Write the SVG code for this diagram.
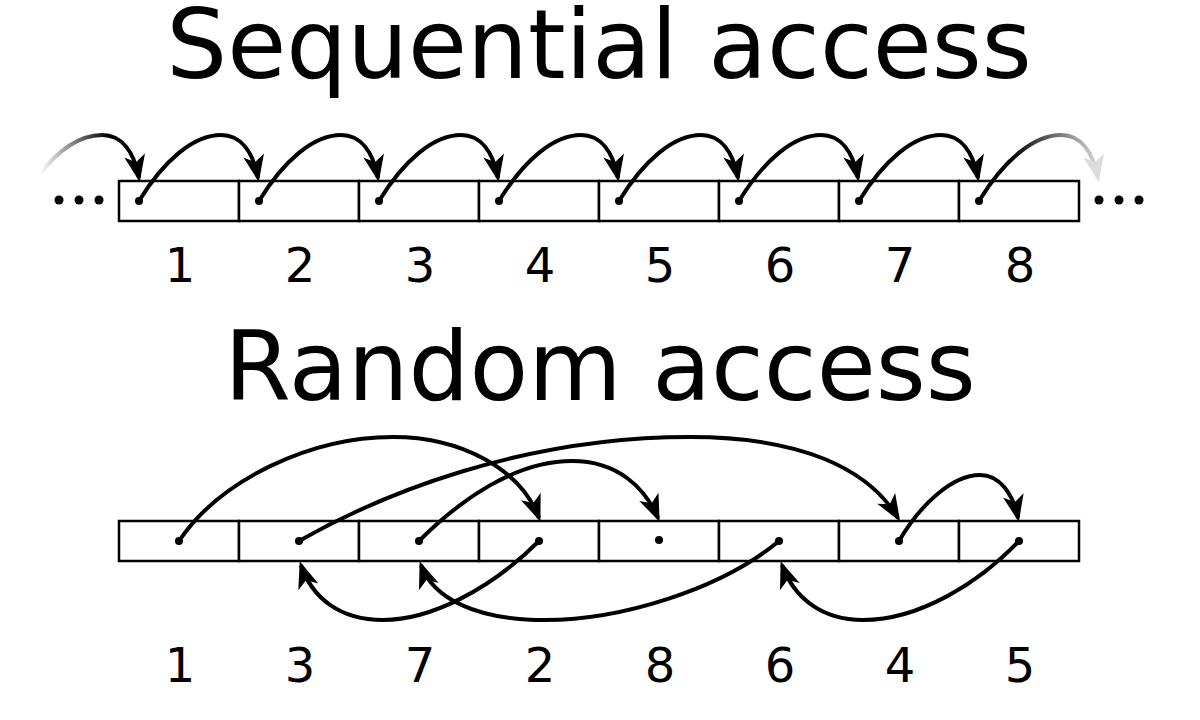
<svg xmlns="http://www.w3.org/2000/svg" width="1200" height="720" viewBox="0 0 1200 720">
<style>
.title{font-family:"DejaVu Sans","Liberation Sans",sans-serif;font-size:96px;fill:#000;text-anchor:middle}
.num{font-family:"DejaVu Sans","Liberation Sans",sans-serif;font-size:48px;fill:#000;text-anchor:middle}
.cell{fill:#fff;stroke:#000;stroke-width:2.5}
.dot{fill:#000}
.arc{fill:none;stroke:#000;stroke-width:4}
</style>
<defs>
<marker id="ah" markerUnits="userSpaceOnUse" orient="auto" refX="0" refY="0" markerWidth="40" markerHeight="40" overflow="visible">
<path d="M4,0 L-23,-10.5 L-16,0 L-23,10.5 z" fill="#000"/>
</marker>
<marker id="ahFade" markerUnits="userSpaceOnUse" orient="auto" refX="0" refY="0" markerWidth="40" markerHeight="40" overflow="visible">
<path d="M4,0 L-23,-10.5 L-16,0 L-23,10.5 z" fill="#dcdcdc"/>
</marker>
<linearGradient id="fadeIn" gradientUnits="userSpaceOnUse" x1="40" y1="0" x2="108" y2="0">
<stop offset="0" stop-color="#000" stop-opacity="0"/>
<stop offset="1" stop-color="#000" stop-opacity="1"/>
</linearGradient>
<linearGradient id="fadeOut" gradientUnits="userSpaceOnUse" x1="1010" y1="0" x2="1100" y2="0">
<stop offset="0" stop-color="#000"/>
<stop offset="1" stop-color="#dcdcdc"/>
</linearGradient>
</defs>
<rect width="1200" height="720" fill="#fff"/>

<text class="title" x="599" y="78">Sequential access</text>
<text class="title" x="600" y="400">Random access</text>

<g id="seq-row">
<g id="seq-1"><rect class="cell" x="119" y="181" width="120" height="40"/><circle class="dot" cx="139" cy="201" r="4"/><text class="num" x="180" y="282">1</text></g>
<g id="seq-2"><rect class="cell" x="239" y="181" width="120" height="40"/><circle class="dot" cx="259" cy="201" r="4"/><text class="num" x="300" y="282">2</text></g>
<g id="seq-3"><rect class="cell" x="359" y="181" width="120" height="40"/><circle class="dot" cx="379" cy="201" r="4"/><text class="num" x="420" y="282">3</text></g>
<g id="seq-4"><rect class="cell" x="479" y="181" width="120" height="40"/><circle class="dot" cx="499" cy="201" r="4"/><text class="num" x="540" y="282">4</text></g>
<g id="seq-5"><rect class="cell" x="599" y="181" width="120" height="40"/><circle class="dot" cx="619" cy="201" r="4"/><text class="num" x="660" y="282">5</text></g>
<g id="seq-6"><rect class="cell" x="719" y="181" width="120" height="40"/><circle class="dot" cx="739" cy="201" r="4"/><text class="num" x="780" y="282">6</text></g>
<g id="seq-7"><rect class="cell" x="839" y="181" width="120" height="40"/><circle class="dot" cx="859" cy="201" r="4"/><text class="num" x="900" y="282">7</text></g>
<g id="seq-8"><rect class="cell" x="959" y="181" width="120" height="40"/><circle class="dot" cx="979" cy="201" r="4"/><text class="num" x="1020" y="282">8</text></g>
<g id="seq-ellipsis-left"><circle class="dot" cx="59" cy="200" r="4.5"/><circle class="dot" cx="79" cy="200" r="4.5"/><circle class="dot" cx="99" cy="200" r="4.5"/></g>
<g id="seq-ellipsis-right"><circle class="dot" cx="1099" cy="200" r="4.5"/><circle class="dot" cx="1119" cy="200" r="4.5"/><circle class="dot" cx="1139" cy="200" r="4.5"/></g>
</g>

<g id="rand-row">
<g id="rand-1"><rect class="cell" x="119" y="521" width="120" height="40"/><circle class="dot" cx="179" cy="541" r="4"/><text class="num" x="180" y="682">1</text></g>
<g id="rand-3"><rect class="cell" x="239" y="521" width="120" height="40"/><circle class="dot" cx="299" cy="541" r="4"/><text class="num" x="300" y="682">3</text></g>
<g id="rand-7"><rect class="cell" x="359" y="521" width="120" height="40"/><circle class="dot" cx="419" cy="541" r="4"/><text class="num" x="420" y="682">7</text></g>
<g id="rand-2"><rect class="cell" x="479" y="521" width="120" height="40"/><circle class="dot" cx="539" cy="541" r="4"/><text class="num" x="540" y="682">2</text></g>
<g id="rand-8"><rect class="cell" x="599" y="521" width="120" height="40"/><circle class="dot" cx="659" cy="540" r="4"/><text class="num" x="660" y="682">8</text></g>
<g id="rand-6"><rect class="cell" x="719" y="521" width="120" height="40"/><circle class="dot" cx="779" cy="541" r="4"/><text class="num" x="780" y="682">6</text></g>
<g id="rand-4"><rect class="cell" x="839" y="521" width="120" height="40"/><circle class="dot" cx="899" cy="541" r="4"/><text class="num" x="900" y="682">4</text></g>
<g id="rand-5"><rect class="cell" x="959" y="521" width="120" height="40"/><circle class="dot" cx="1019" cy="541" r="4"/><text class="num" x="1020" y="682">5</text></g>
</g>

<g id="connectors">
<path class="arc" style="stroke:url(#fadeIn)" marker-end="url(#ah)" d="M40,174 C58,150 80,135 102,135 C122,135 134,152 139,178"/>
<path class="arc" marker-end="url(#ah)" d="M139,201 C164,160 194,135 221,135 C241,135 253,152 258,178"/>
<path class="arc" marker-end="url(#ah)" d="M259,201 C284,160 314,135 341,135 C361,135 373,152 378,178"/>
<path class="arc" marker-end="url(#ah)" d="M379,201 C404,160 434,135 461,135 C481,135 493,152 498,178"/>
<path class="arc" marker-end="url(#ah)" d="M499,201 C524,160 554,135 581,135 C601,135 613,152 618,178"/>
<path class="arc" marker-end="url(#ah)" d="M619,201 C644,160 674,135 701,135 C721,135 733,152 738,178"/>
<path class="arc" marker-end="url(#ah)" d="M739,201 C764,160 794,135 821,135 C841,135 853,152 858,178"/>
<path class="arc" marker-end="url(#ah)" d="M859,201 C884,160 914,135 941,135 C961,135 973,152 978,178"/>
<path class="arc" style="stroke:url(#fadeOut)" marker-end="url(#ahFade)" d="M979,201 C1004,160 1034,135 1061,135 C1081,135 1093,152 1098,178"/>

<path class="arc" marker-end="url(#ah)" d="M179,541 C220,480 310,437 393,437 C460,437 520,468 539,518"/>
<path class="arc" marker-end="url(#ah)" d="M299,541 C380,495 520,437 690,437 C800,437 868,468 898,518"/>
<path class="arc" marker-end="url(#ah)" d="M419,541 C460,500 515,461 572,461 C618,461 645,488 658,518"/>
<path class="arc" marker-end="url(#ah)" d="M899,541 C920,505 952,475 980,475 C1000,475 1013,494 1018,518"/>
<path class="arc" marker-end="url(#ah)" d="M539,541 C490,590 430,620 383,620 C340,620 312,598 301,565"/>
<path class="arc" marker-end="url(#ah)" d="M779,541 C720,590 620,620 545,620 C475,620 433,598 421,565"/>
<path class="arc" marker-end="url(#ah)" d="M1019,541 C980,582 920,620 863,620 C822,620 794,598 782,565"/>
</g>
</svg>
